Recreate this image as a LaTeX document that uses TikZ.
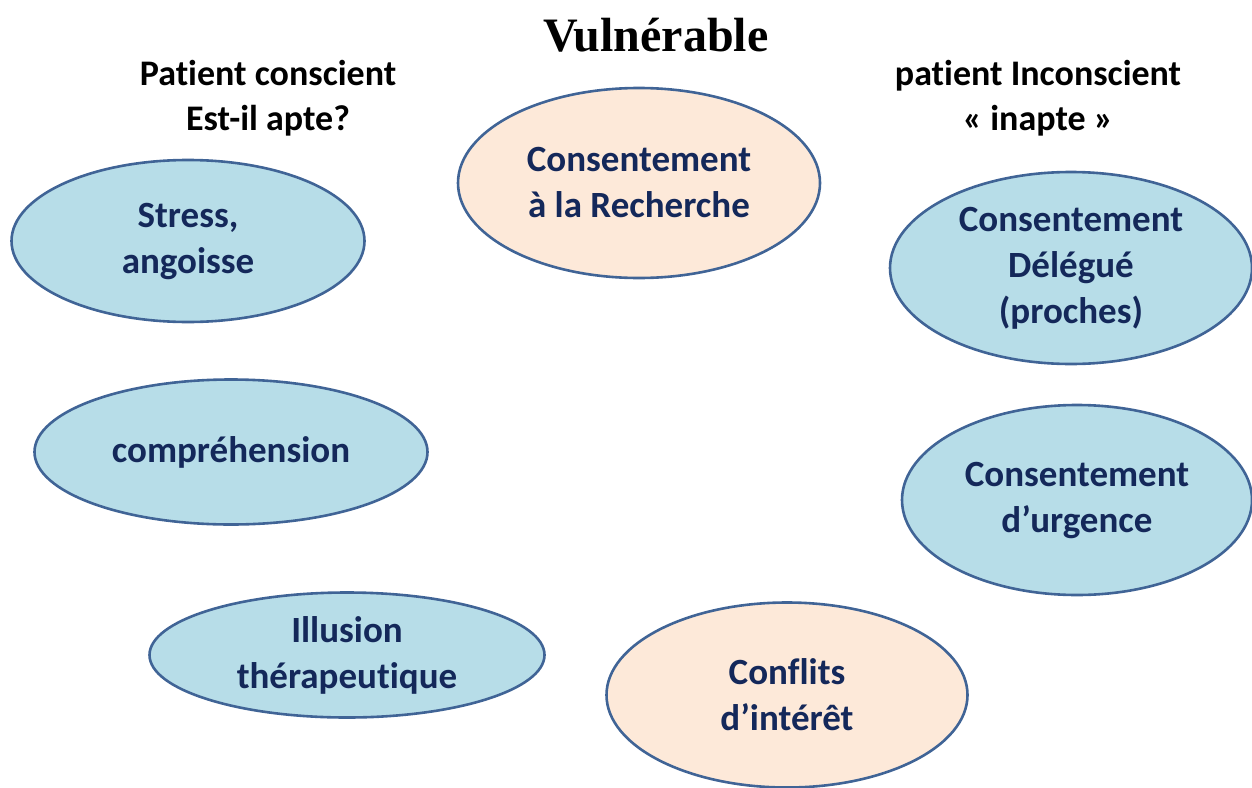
\documentclass[tikz,border=0pt]{standalone}
\usepackage{fontspec}
\setmainfont[Ligatures={NoCommon}]{Carlito}
\newfontfamily\titlefont{Liberation Serif}
\usetikzlibrary{shapes.geometric}
\definecolor{bulleblue}{RGB}{183,221,232}
\definecolor{bullepeach}{RGB}{253,233,217}
\definecolor{bordure}{RGB}{64,100,150}
\definecolor{encre}{RGB}{20,40,90}

\begin{document}
\begin{tikzpicture}[x=1pt,y=-1pt,
    bulle/.style={ellipse, draw=bordure, line width=2.6pt, inner sep=0pt,
        align=center, text=encre, font=\fontsize{37}{46}\selectfont\bfseries},
    entete/.style={align=center, font=\fontsize{36}{45}\selectfont\bfseries}]
    \useasboundingbox (0,0) rectangle (1252,787);
    \node[font=\titlefont\fontsize{48}{52}\selectfont\bfseries] (titre) at (656,35) {Vulnérable};
    \node[entete] (conscient) at (268,98) {Patient conscient\\Est-il apte?};
    \node[entete] (inconscient) at (1038,98) {patient Inconscient\\« inapte »};
    \foreach \nom/\cx/\cy/\w/\h/\fond/\txt in {
        recherche/639/183/362/190/bullepeach/{Consentement\\à la Recherche},
        stress/188/241/353/162/bulleblue/{Stress,\\angoisse},
        compr/231/452/393/145/bulleblue/{compréhension},
        illusion/347/655/395/125/bulleblue/{Illusion\\thérapeutique},
        conflits/787/695/361/185/bullepeach/{Conflits\\d’intérêt},
        delegue/1071/268/362/192/bulleblue/{Consentement\\Délégué\\(proches)},
        urgence/1077/500/350/190/bulleblue/{Consentement\\d’urgence}} {
        \node[bulle, fill=\fond, minimum width=\w pt, minimum height=\h pt] (\nom) at (\cx,\cy) {\txt};
    }
\end{tikzpicture}
\end{document}
